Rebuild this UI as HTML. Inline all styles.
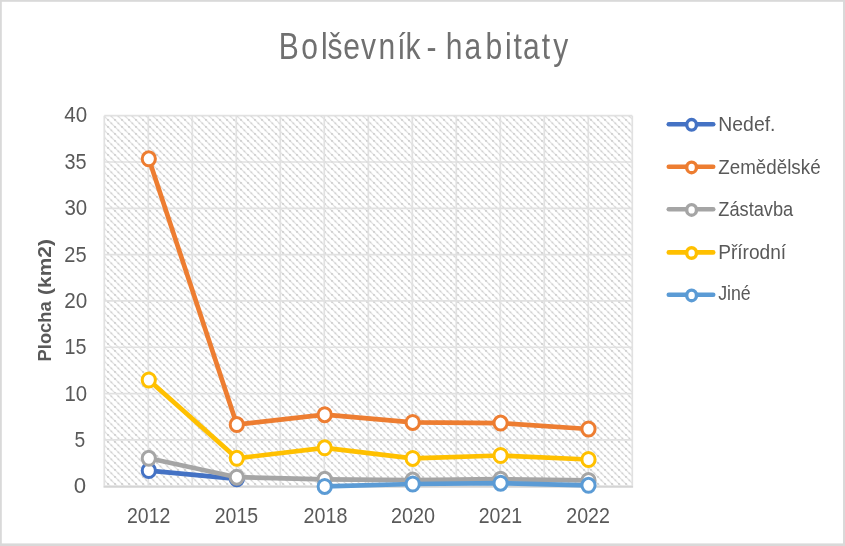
<!DOCTYPE html>
<html lang="cs"><head><meta charset="utf-8"><title>Bolševník - habitaty</title>
<style>
html,body{margin:0;padding:0;background:#fff;}
body{width:845px;height:546px;overflow:hidden;}
svg{display:block;}
text{font-family:"Liberation Sans",sans-serif;fill:#595959;}
</style></head><body>
<svg width="845" height="546" viewBox="0 0 845 546">
<defs>
<pattern id="hatch" patternUnits="userSpaceOnUse" x="2.1" y="0" width="7" height="7">
<path d="M-1,-1L8,8 M-1,6L1,8 M6,-1L8,1" stroke="#dedede" stroke-width="1.2" fill="none"/>
<path d="M0.1,0.1h1.6v1.6h-1.6z" fill="#c8c8c8"/>
<path d="M3.6,3.6h1.6v1.6h-1.6z" fill="#d0d0d0"/>
</pattern>
</defs>
<rect x="0" y="0" width="845" height="546" fill="#d9d9d9"/>
<rect x="1.8" y="1.8" width="841.2" height="541.6" fill="#ffffff"/>
<rect x="104.3" y="115.7" width="528.0" height="370.5" fill="url(#hatch)"/>
<path d="M104.3,115.70H632.3 M104.3,162.01H632.3 M104.3,208.32H632.3 M104.3,254.64H632.3 M104.3,300.95H632.3 M104.3,347.26H632.3 M104.3,393.57H632.3 M104.3,439.89H632.3 M104.3,486.20H632.3 M104.30,115.7V486.2 M148.30,115.7V486.2 M192.30,115.7V486.2 M236.30,115.7V486.2 M280.30,115.7V486.2 M324.30,115.7V486.2 M368.30,115.7V486.2 M412.30,115.7V486.2 M456.30,115.7V486.2 M500.30,115.7V486.2 M544.30,115.7V486.2 M588.30,115.7V486.2 M632.30,115.7V486.2" stroke="#e1e1e1" stroke-width="1.7" fill="none"/>
<path d="M103.5,486.9H633.1" stroke="#d4d4d4" stroke-width="1.9" fill="none"/>
<path d="M148.8,470.6 L236.8,478.8" stroke="#4472C4" stroke-width="4.7" fill="none" stroke-linecap="round" stroke-linejoin="round"/>
<ellipse cx="148.8" cy="470.6" rx="6.6" ry="7.0" fill="#fff" stroke="#4472C4" stroke-width="3"/>
<ellipse cx="236.8" cy="478.8" rx="6.6" ry="7.0" fill="#fff" stroke="#4472C4" stroke-width="3"/>
<path d="M148.8,158.8 L236.8,424.6 L324.7,414.7 L412.7,422.4 L500.6,423.1 L588.5,429.0" stroke="#ED7D31" stroke-width="4.7" fill="none" stroke-linecap="round" stroke-linejoin="round"/>
<ellipse cx="148.8" cy="158.8" rx="6.6" ry="7.0" fill="#fff" stroke="#ED7D31" stroke-width="3"/>
<ellipse cx="236.8" cy="424.6" rx="6.6" ry="7.0" fill="#fff" stroke="#ED7D31" stroke-width="3"/>
<ellipse cx="324.7" cy="414.7" rx="6.6" ry="7.0" fill="#fff" stroke="#ED7D31" stroke-width="3"/>
<ellipse cx="412.7" cy="422.4" rx="6.6" ry="7.0" fill="#fff" stroke="#ED7D31" stroke-width="3"/>
<ellipse cx="500.6" cy="423.1" rx="6.6" ry="7.0" fill="#fff" stroke="#ED7D31" stroke-width="3"/>
<ellipse cx="588.5" cy="429.0" rx="6.6" ry="7.0" fill="#fff" stroke="#ED7D31" stroke-width="3"/>
<path d="M148.8,458.3 L236.8,477.2 L324.7,479.3 L412.7,480.1 L500.6,479.2 L588.5,480.4" stroke="#A5A5A5" stroke-width="4.7" fill="none" stroke-linecap="round" stroke-linejoin="round"/>
<ellipse cx="148.8" cy="458.3" rx="6.6" ry="7.0" fill="#fff" stroke="#A5A5A5" stroke-width="3"/>
<ellipse cx="236.8" cy="477.2" rx="6.6" ry="7.0" fill="#fff" stroke="#A5A5A5" stroke-width="3"/>
<ellipse cx="324.7" cy="479.3" rx="6.6" ry="7.0" fill="#fff" stroke="#A5A5A5" stroke-width="3"/>
<ellipse cx="412.7" cy="480.1" rx="6.6" ry="7.0" fill="#fff" stroke="#A5A5A5" stroke-width="3"/>
<ellipse cx="500.6" cy="479.2" rx="6.6" ry="7.0" fill="#fff" stroke="#A5A5A5" stroke-width="3"/>
<ellipse cx="588.5" cy="480.4" rx="6.6" ry="7.0" fill="#fff" stroke="#A5A5A5" stroke-width="3"/>
<path d="M148.8,380.0 L236.8,458.3 L324.7,447.8 L412.7,458.4 L500.6,455.5 L588.5,459.5" stroke="#FFC000" stroke-width="4.7" fill="none" stroke-linecap="round" stroke-linejoin="round"/>
<ellipse cx="148.8" cy="380.0" rx="6.6" ry="7.0" fill="#fff" stroke="#FFC000" stroke-width="3"/>
<ellipse cx="236.8" cy="458.3" rx="6.6" ry="7.0" fill="#fff" stroke="#FFC000" stroke-width="3"/>
<ellipse cx="324.7" cy="447.8" rx="6.6" ry="7.0" fill="#fff" stroke="#FFC000" stroke-width="3"/>
<ellipse cx="412.7" cy="458.4" rx="6.6" ry="7.0" fill="#fff" stroke="#FFC000" stroke-width="3"/>
<ellipse cx="500.6" cy="455.5" rx="6.6" ry="7.0" fill="#fff" stroke="#FFC000" stroke-width="3"/>
<ellipse cx="588.5" cy="459.5" rx="6.6" ry="7.0" fill="#fff" stroke="#FFC000" stroke-width="3"/>
<path d="M324.7,486.4 L412.7,484.0 L500.6,483.2 L588.5,485.3" stroke="#5B9BD5" stroke-width="4.7" fill="none" stroke-linecap="round" stroke-linejoin="round"/>
<ellipse cx="324.7" cy="486.4" rx="6.6" ry="7.0" fill="#fff" stroke="#5B9BD5" stroke-width="3"/>
<ellipse cx="412.7" cy="484.0" rx="6.6" ry="7.0" fill="#fff" stroke="#5B9BD5" stroke-width="3"/>
<ellipse cx="500.6" cy="483.2" rx="6.6" ry="7.0" fill="#fff" stroke="#5B9BD5" stroke-width="3"/>
<ellipse cx="588.5" cy="485.3" rx="6.6" ry="7.0" fill="#fff" stroke="#5B9BD5" stroke-width="3"/>
<text transform="translate(0,58.8) scale(0.82,1)" font-size="36.6" style="fill:#707070" x="339.93 367.31 391.61 399.41 418.66 440.14 461.58 484.60 494.57 514.63 520.16 536.59 543.59 566.50 592.18 616.00 626.34 637.84 660.73 674.72">Bolševník - habitaty</text>
<text x="64.32" y="121.5" font-size="21.5" textLength="22.82" lengthAdjust="spacingAndGlyphs">40</text>
<text x="64.41" y="168.8" font-size="21.5" textLength="22.09" lengthAdjust="spacingAndGlyphs">35</text>
<text x="64.39" y="214.8" font-size="21.5" textLength="22.75" lengthAdjust="spacingAndGlyphs">30</text>
<text x="64.27" y="261.6" font-size="21.5" textLength="22.29" lengthAdjust="spacingAndGlyphs">25</text>
<text x="64.14" y="307.8" font-size="21.5" textLength="23.01" lengthAdjust="spacingAndGlyphs">20</text>
<text x="64.52" y="353.8" font-size="21.5" textLength="21.97" lengthAdjust="spacingAndGlyphs">15</text>
<text x="64.48" y="400.8" font-size="21.5" textLength="22.66" lengthAdjust="spacingAndGlyphs">10</text>
<text x="74.43" y="446.8" font-size="21.5" textLength="10.71" lengthAdjust="spacingAndGlyphs">5</text>
<text x="73.67" y="492.7" font-size="21.5" textLength="12.37" lengthAdjust="spacingAndGlyphs">0</text>
<text x="127.01" y="523.2" font-size="22" textLength="43.33" lengthAdjust="spacingAndGlyphs">2012</text>
<text x="214.71" y="523.2" font-size="22" textLength="43.43" lengthAdjust="spacingAndGlyphs">2015</text>
<text x="303.60" y="523.2" font-size="22" textLength="43.95" lengthAdjust="spacingAndGlyphs">2018</text>
<text x="391.00" y="523.2" font-size="22" textLength="44.14" lengthAdjust="spacingAndGlyphs">2020</text>
<text x="478.71" y="523.2" font-size="22" textLength="43.43" lengthAdjust="spacingAndGlyphs">2021</text>
<text x="566.31" y="523.2" font-size="22" textLength="43.64" lengthAdjust="spacingAndGlyphs">2022</text>
<text transform="translate(51.2,361.41) rotate(-90)" font-size="18.2" font-weight="bold" textLength="60.10" lengthAdjust="spacingAndGlyphs">Plocha</text>
<text transform="translate(51.2,294.96) rotate(-90)" font-size="18.2" font-weight="bold" textLength="55.84" lengthAdjust="spacingAndGlyphs">(km2)</text>
<path d="M668.8,124.2H713.2" stroke="#4472C4" stroke-width="4.6" stroke-linecap="round"/>
<ellipse cx="691.6" cy="124.8" rx="4.9" ry="5.3" fill="#fff" stroke="#4472C4" stroke-width="3.4"/>
<text x="718.35" y="130.9" font-size="20.1" textLength="57.09" lengthAdjust="spacingAndGlyphs">Nedef.</text>
<path d="M668.8,166.8H713.2" stroke="#ED7D31" stroke-width="4.6" stroke-linecap="round"/>
<ellipse cx="691.6" cy="167.4" rx="4.9" ry="5.3" fill="#fff" stroke="#ED7D31" stroke-width="3.4"/>
<text x="718.33" y="173.5" font-size="20.1" textLength="102.26" lengthAdjust="spacingAndGlyphs">Zemědělské</text>
<path d="M668.8,209.3H713.2" stroke="#A5A5A5" stroke-width="4.6" stroke-linecap="round"/>
<ellipse cx="691.6" cy="209.9" rx="4.9" ry="5.3" fill="#fff" stroke="#A5A5A5" stroke-width="3.4"/>
<text x="718.35" y="216.2" font-size="20.1" textLength="74.87" lengthAdjust="spacingAndGlyphs">Zástavba</text>
<path d="M668.8,252.4H713.2" stroke="#FFC000" stroke-width="4.6" stroke-linecap="round"/>
<ellipse cx="691.6" cy="253.0" rx="4.9" ry="5.3" fill="#fff" stroke="#FFC000" stroke-width="3.4"/>
<text x="718.17" y="258.5" font-size="20.1" textLength="68.01" lengthAdjust="spacingAndGlyphs">Přírodní</text>
<path d="M668.8,294.8H713.2" stroke="#5B9BD5" stroke-width="4.6" stroke-linecap="round"/>
<ellipse cx="691.6" cy="295.4" rx="4.9" ry="5.3" fill="#fff" stroke="#5B9BD5" stroke-width="3.4"/>
<text x="718.18" y="300.1" font-size="20.1" textLength="32.59" lengthAdjust="spacingAndGlyphs">Jiné</text>
</svg>
</body></html>
